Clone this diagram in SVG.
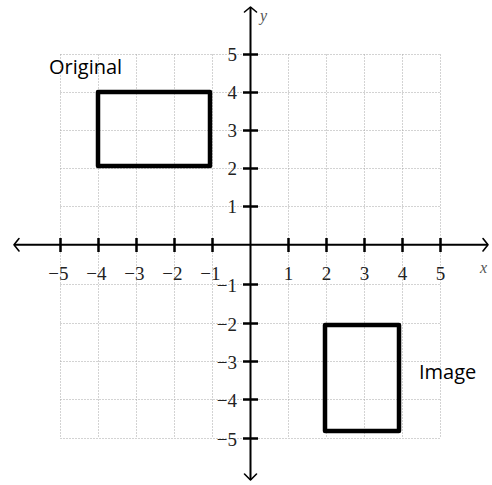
<svg xmlns="http://www.w3.org/2000/svg" width="492" height="485" viewBox="0 0 492 485">
<style>
.grid{stroke:#a6a6a6;stroke-width:1;stroke-dasharray:1 2;fill:none}
.axis{stroke:#000;stroke-width:2;fill:none}
.tick{stroke:#000;stroke-width:2.5}
.arrow{stroke:#000;stroke-width:1.6;fill:none;stroke-linecap:round;stroke-linejoin:round}
.num{font-family:"Liberation Serif","Times New Roman",serif;font-size:19px;fill:#222}
.var{font-family:"Liberation Serif","Times New Roman",serif;font-size:16px;font-style:italic;fill:#555}
.lbl{font-family:"Open Sans","Noto Sans",sans-serif;font-size:20px;fill:#000}
.shape{fill:none;stroke:#000;stroke-width:4.5;stroke-linejoin:round}
</style>
<rect width="492" height="485" fill="#fff"/>
<g id="grid">
<path class="grid" d="M60.5,54.5V438.5M98.5,54.5V438.5M136.5,54.5V438.5M174.5,54.5V438.5M212.5,54.5V438.5M288.5,54.5V438.5M326.5,54.5V438.5M364.5,54.5V438.5M402.5,54.5V438.5M440.5,54.5V438.5"/>
<path class="grid" d="M60.5,54.5H440.5M60.5,92.5H440.5M60.5,130.5H440.5M60.5,168.5H440.5M60.5,206.5H440.5M60.5,284.5H440.5M60.5,323.5H440.5M60.5,361.5H440.5M60.5,399.5H440.5M60.5,438.5H440.5"/>
</g>
<g id="axes">
<path class="axis" d="M14,244.7H488M250.5,7V480"/>
<path class="arrow" d="M19,238.5L14,244.7L19,251M483,238.5L488,244.7L483,251M244.5,12L250.5,7L256.5,12M244.5,474L250.5,480L256.5,474"/>
<path class="tick" d="M60.5,238V252M98.5,238V252M136.5,238V252M174.5,238V252M212.5,238V252M288.5,238V252M326.5,238V252M364.5,238V252M402.5,238V252M440.5,238V252"/>
<path class="tick" d="M243,54.5H258M243,92.5H258M243,130.5H258M243,168.5H258M243,206.5H258M243,284.5H258M243,323.5H258M243,361.5H258M243,399.5H258M243,438.5H258"/>
<text class="var" x="480" y="273">x</text>
<text class="var" x="260" y="21">y</text>
</g>
<g id="xlabels" class="num">
<text x="68.5" y="279.5" text-anchor="end">−5</text>
<text x="106.5" y="279.5" text-anchor="end">−4</text>
<text x="144.5" y="279.5" text-anchor="end">−3</text>
<text x="182.5" y="279.5" text-anchor="end">−2</text>
<text x="220.5" y="279.5" text-anchor="end">−1</text>
<text x="288.5" y="279.5" text-anchor="middle">1</text>
<text x="326.5" y="279.5" text-anchor="middle">2</text>
<text x="364.5" y="279.5" text-anchor="middle">3</text>
<text x="402.5" y="279.5" text-anchor="middle">4</text>
<text x="440.5" y="279.5" text-anchor="middle">5</text>
</g>
<g id="ylabels" class="num" text-anchor="end">
<text x="237" y="61">5</text>
<text x="237" y="99">4</text>
<text x="237" y="137">3</text>
<text x="237" y="175">2</text>
<text x="237" y="213">1</text>
<text x="237" y="291.5">−1</text>
<text x="237" y="330.5">−2</text>
<text x="237" y="368.5">−3</text>
<text x="237" y="406.5">−4</text>
<text x="237" y="445.5">−5</text>
</g>
<g id="original">
<rect class="shape" x="98" y="92" width="112" height="74"/>
<text class="lbl" x="49" y="73.5">Original</text>
</g>
<g id="image">
<rect class="shape" x="325" y="325" width="74" height="106"/>
<text class="lbl" x="419" y="379">Image</text>
</g>
</svg>
